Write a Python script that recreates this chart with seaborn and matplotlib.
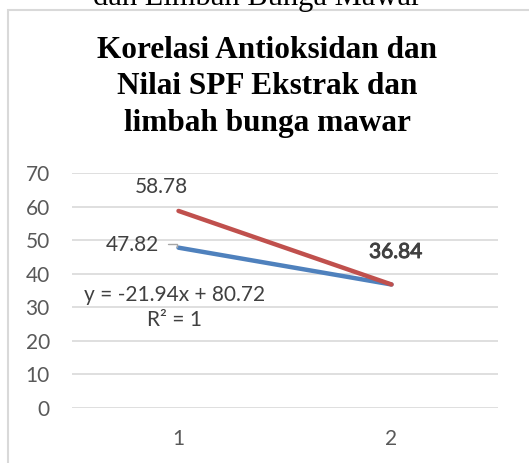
import pandas as pd
import seaborn as sns
import matplotlib.pyplot as plt
import matplotlib.patheffects as pe
from matplotlib.patches import Rectangle

# data
categories = [1, 2]
ekstrak = [58.78, 36.84]
limbah = [47.82, 36.84]
trend_text = "y = -21.94x + 80.72"
r2_text = "R² = 1"
title = "Korelasi Antioksidan dan\nNilai SPF Ekstrak dan\nlimbah bunga mawar"

sns.set_style("white")
plt.rcParams['font.family'] = ['Lato', 'DejaVu Sans']

df = pd.DataFrame({
    "x": categories * 2,
    "y": limbah + ekstrak,
    "seri": ["limbah"] * 2 + ["ekstrak"] * 2,
})

fig = plt.figure(figsize=(5.29, 4.63), dpi=100)
ax = fig.add_axes([72 / 529, 1 - 408 / 463, 426 / 529, (408 - 173.3) / 463])

palette = {"limbah": "#4F81BD", "ekstrak": "#C0504D"}
sns.lineplot(data=df, x="x", y="y", hue="seri", palette=palette, linewidth=3.2,
             ax=ax, legend=False, solid_capstyle="round")

ax.set_xlim(0.5, 2.5)
ax.set_ylim(0, 70)
ax.set_yticks(range(0, 71, 10))
ax.set_xticks(categories)
ax.grid(axis="y", color="#D9D9D9", linewidth=1.2)
ax.grid(axis="x", visible=False)
for s in ax.spines.values():
    s.set_visible(False)
ax.tick_params(axis="both", labelsize=15, labelcolor="#595959", length=0)
ax.tick_params(axis="y", pad=16)
ax.tick_params(axis="x", pad=15)
ax.set_xlabel("")
ax.set_ylabel("")

# data labels
lab = dict(fontsize=15, color="#404040")
ax.annotate(f"{ekstrak[0]:.2f}", (categories[0], ekstrak[0]), xytext=(-12, 17),
            textcoords="offset points", ha="center", va="center", **lab)
ax.annotate(f"{limbah[0]:.2f}", (categories[0], limbah[0]), xytext=(-33.5, 2),
            textcoords="offset points", ha="center", va="center", **lab)
# two labels overlap here, so the text looks heavier
ax.annotate(f"{ekstrak[1]:.2f}", (categories[1], ekstrak[1]), xytext=(3, 23.4),
            textcoords="offset points", ha="center", va="center",
            path_effects=[pe.withStroke(linewidth=0.7, foreground="#404040")],
            **lab)
# small leader line next to the 47.82 label
ax.plot([0.95, 0.995, 0.995], [48.9, 48.9, 48.1], color="#A6A6A6", linewidth=1)

ax.annotate(trend_text, (categories[0], limbah[0]), xytext=(-3, -34),
            textcoords="offset points", ha="center", va="center", **lab)
ax.annotate(r2_text, (categories[0], limbah[0]), xytext=(-3, -52),
            textcoords="offset points", ha="center", va="center", **lab)

# chart frame
fig.patches.append(Rectangle((8 / 529, -0.1), 1.2, 1 - 10.5 / 463 + 0.1,
                             transform=fig.transFigure, fill=False,
                             edgecolor="#D9D9D9", linewidth=1.5))

fig.text(267 / 529, 1 - 87 / 463, title, ha="center", va="center",
         family="Liberation Serif", fontweight="bold", fontsize=22.5,
         linespacing=1.35, color="black")

# caption above the chart, cut off by the image edge
fig.text(257 / 529, 1 - 5 / 463, "dan Limbah Bunga Mawar", ha="center",
         va="baseline", family="Liberation Serif", fontsize=22, color="black")

fig.savefig("out.png", dpi=100)
